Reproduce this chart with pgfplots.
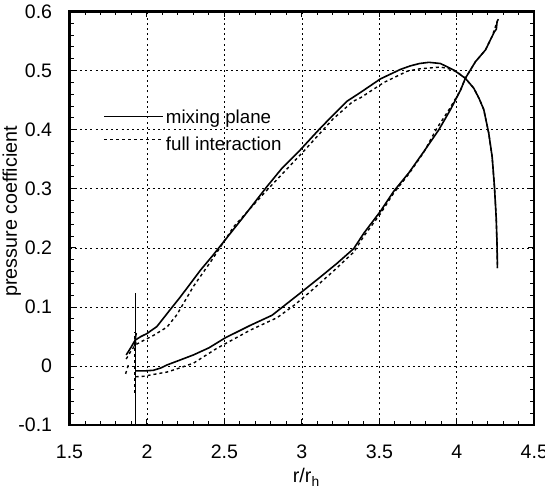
\documentclass[border=0pt]{standalone}
\usepackage{fontspec}
\setmainfont{Liberation Sans}
\usepackage{pgfplots}
\pgfplotsset{compat=1.18}

\begin{document}
\begin{tikzpicture}
\begin{axis}[
    scale only axis,
    width=232.35bp, height=206.85bp,
    xmin=1.5, xmax=4.5,
    ymin=-0.1, ymax=0.6,
    xtick={1.5,2,2.5,3,3.5,4,4.5},
    xticklabels={1.5,2,2.5,3,3.5,4,4.5},
    ytick={-0.1,0,0.1,0.2,0.3,0.4,0.5,0.6},
    yticklabels={-0.1,0,0.1,0.2,0.3,0.4,0.5,0.6},
    minor x tick num=4,
    minor y tick num=4,
    tick align=inside,
    tick pos=both,
    major tick length=3bp,
    minor tick length=2bp,
    every tick/.style={black, line width=0.5bp},
    grid=major,
    major grid style={black, line width=0.4bp, dash pattern=on 1bp off 1.6bp},
    axis line style={black, line width=1.1bp},
    tick label style={font=\fontsize{9.8}{11}\selectfont},
    yticklabel style={anchor=east, inner sep=0pt, xshift=-8.5bp},
    xticklabel style={anchor=north, inner sep=0pt, yshift=-9.5bp},
    xlabel={r/r\textsubscript{h}},
    ylabel={pressure coefficient},
    label style={font=\fontsize{9.9}{11}\selectfont},
    xlabel style={at={(axis description cs:0.51,0)}, anchor=base, yshift=-28.8bp},
    ylabel style={at={(axis description cs:-0.113,0.517)}, anchor=base, rotate=0},
]

% mixing plane (solid)
\addplot[black, line width=0.8bp] coordinates {
    (1.866,0.019) (1.895,0.031) (1.924,0.044) (1.960,0.050) (1.999,0.055)
    (2.064,0.067) (2.139,0.092) (2.215,0.117) (2.290,0.143) (2.344,0.162)
    (2.424,0.187) (2.506,0.214) (2.624,0.253) (2.775,0.304) (2.872,0.335)
    (2.990,0.366) (3.120,0.403) (3.290,0.448) (3.378,0.463) (3.507,0.486)
    (3.636,0.502) (3.700,0.508) (3.760,0.512) (3.820,0.514) (3.894,0.512)
    (3.980,0.501) (4.055,0.487) (4.110,0.470) (4.145,0.452) (4.174,0.434)
    (4.206,0.394) (4.228,0.354) (4.243,0.303) (4.254,0.252) (4.260,0.202)
    (4.262,0.166)
};
\addplot[black, line width=0.8bp] coordinates {
    (1.927,-0.008) (1.985,-0.008) (2.042,-0.007) (2.090,-0.003) (2.129,0.002)
    (2.200,0.009) (2.300,0.019) (2.400,0.031) (2.506,0.048) (2.667,0.069)
    (2.807,0.086) (2.904,0.106) (3.001,0.126) (3.120,0.151) (3.227,0.174)
    (3.335,0.199) (3.400,0.225) (3.507,0.262) (3.593,0.296) (3.690,0.327)
    (3.787,0.363) (3.884,0.400) (3.959,0.434) (4.024,0.467) (4.055,0.487)
    (4.120,0.515) (4.185,0.535) (4.228,0.558) (4.243,0.566) (4.255,0.570)
    (4.260,0.583) (4.268,0.587)
};
\addplot[black, line width=0.8bp] coordinates {(1.927,-0.1) (1.927,0.124)};
\addplot[black, line width=0.6bp] coordinates {(1.918,0.034) (1.932,0.056) (1.921,0.047) (1.930,0.038)};

% full interaction (dashed)
\addplot[black, line width=0.7bp, dash pattern=on 1.5bp off 1.5bp] coordinates {
    (1.866,0.012) (1.895,0.025) (1.925,0.036) (1.967,0.042) (2.042,0.052)
    (2.129,0.066) (2.193,0.087) (2.300,0.135) (2.420,0.180) (2.560,0.236)
    (2.775,0.298) (3.020,0.366) (3.200,0.418) (3.330,0.448) (3.378,0.454)
    (3.530,0.480) (3.680,0.499) (3.760,0.503) (3.894,0.506) (3.950,0.503)
    (4.000,0.498) (4.055,0.487) (4.110,0.470) (4.145,0.452) (4.174,0.434)
    (4.206,0.394) (4.228,0.354) (4.243,0.303) (4.254,0.252) (4.260,0.202)
    (4.262,0.166)
};
\addplot[black, line width=0.7bp, dash pattern=on 1.5bp off 1.5bp] coordinates {
    (1.927,-0.018) (1.985,-0.017) (2.021,-0.015) (2.129,-0.010) (2.200,-0.004)
    (2.300,0.005) (2.450,0.030) (2.667,0.061) (2.840,0.082) (2.950,0.103)
    (3.050,0.125) (3.200,0.160) (3.335,0.193) (3.400,0.220) (3.507,0.258)
    (3.593,0.293) (3.690,0.325) (3.787,0.362) (3.870,0.402) (3.950,0.434)
    (4.024,0.467) (4.055,0.487) (4.120,0.515) (4.185,0.535) (4.228,0.558)
    (4.260,0.583)
};
\addplot[black, line width=0.7bp, dash pattern=on 1.5bp off 1.5bp] coordinates {(1.923,-0.045) (1.923,0.058)};
\addplot[black, line width=0.7bp, dash pattern=on 1.5bp off 1.5bp] coordinates {(1.862,-0.013) (1.880,0.002)};

% legend drawn inside the axis
\addplot[black, line width=0.8bp] coordinates {(1.725,0.4225) (2.105,0.4225)};
\addplot[black, line width=0.7bp, dash pattern=on 1.5bp off 1.5bp] coordinates {(1.725,0.383) (2.105,0.383)};
\node[anchor=base west, inner sep=0pt, font=\fontsize{9.4}{11}\selectfont] at (axis cs:2.12,0.410) {mixing plane};
\node[anchor=base west, inner sep=0pt, font=\fontsize{9.4}{11}\selectfont] at (axis cs:2.12,0.365) {full interaction};

\coordinate (sw) at (rel axis cs:0,0);
\coordinate (ne) at (rel axis cs:1,1);
\end{axis}
\pgfresetboundingbox
\path[use as bounding box] (sw) ++(-34.75bp,-31.65bp) rectangle ([shift={(5.35bp,5.75bp)}]ne);
\end{tikzpicture}
\end{document}
